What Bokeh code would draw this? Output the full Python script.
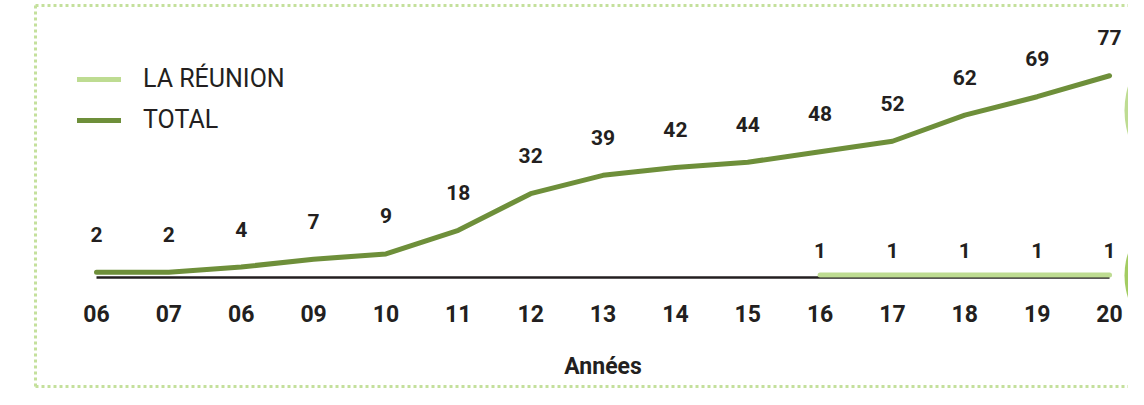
from bokeh.plotting import figure
from bokeh.models import Range1d, Legend, LegendItem
from bokeh.core.properties import value
from bokeh.embed import file_html
from bokeh.resources import INLINE

# ---- data ----
year_labels = ["06", "07", "06", "09", "10", "11", "12", "13", "14", "15", "16", "17", "18", "19", "20"]
total = [2, 2, 4, 7, 9, 18, 32, 39, 42, 44, 48, 52, 62, 69, 77]
reunion_years = ["16", "17", "18", "19", "20"]
reunion = [1, 1, 1, 1, 1]
axis_title = "Années"
series_names = ["LA RÉUNION", "TOTAL"]

# ---- styling ----
W, H = 1128, 389
X_PX = 72.36           # pixels per year slot
Y_PX = 2.62            # pixels per unit
X0_FIG = 96            # fig px of first slot
ZERO_FIG = 277         # fig px (from top) of value 0

DARK = "#6e8f3a"
LIGHT = "#bedc92"
TXT = "#231f20"
DOT = "#c4e09c"
FONT = value("Roboto")

x0 = -X0_FIG / X_PX
x1 = x0 + W / X_PX
y1 = ZERO_FIG / Y_PX
y0 = y1 - H / Y_PX

def dx(px):
    return x0 + px / X_PX

def dy(py):
    return y1 - py / Y_PX

p = figure(width=W, height=H, output_backend="svg", toolbar_location=None,
           x_range=Range1d(x0, x1), y_range=Range1d(y0, y1),
           x_axis_location=None, y_axis_location=None, min_border=0)
p.outline_line_color = None
p.xgrid.visible = False
p.ygrid.visible = False
p.background_fill_color = "white"
p.border_fill_color = "white"

xs = list(range(len(year_labels)))
rx = [year_labels.index(y) for y in reunion_years]

# decorative dotted frame
p.segment(x0=[dx(35), dx(35), dx(35)], y0=[dy(5), dy(5), dy(386)],
          x1=[dx(35), dx(W + 20), dx(W + 20)], y1=[dy(386), dy(5), dy(386)],
          line_color=DOT, line_width=3, line_dash="3 3")

# decorative circles at the right edge
p.scatter(x=[dx(1209), dx(1197)], y=[dy(110), dy(275)], size=[170, 146],
          fill_color=[LIGHT, "#a3cc62"], line_color=None)

# axis line
p.segment(x0=[xs[0]], y0=[0], x1=[xs[-1]], y1=[0], line_color=TXT, line_width=2.5)

# series
r_re = p.line(rx, reunion, line_color=LIGHT, line_width=5, line_cap="round", line_join="round")
r_tot = p.line(xs, total, line_color=DARK, line_width=5, line_cap="round", line_join="round")

# value labels
p.text(x=xs, y=total, text=[str(v) for v in total], text_font=FONT, text_font_style="bold",
       text_font_size="21px", text_color=TXT, text_align="center", text_baseline="middle",
       y_offset=-38)
p.text(x=rx, y=reunion, text=[str(v) for v in reunion], text_font=FONT, text_font_style="bold",
       text_font_size="21px", text_color=TXT, text_align="center", text_baseline="middle",
       y_offset=-24)

# tick labels
p.text(x=xs, y=[0] * len(xs), text=year_labels, text_font=FONT, text_font_style="bold",
       text_font_size="23px", text_color=TXT, text_align="center", text_baseline="middle",
       y_offset=36)

# axis title
p.text(x=[(xs[0] + xs[-1]) / 2], y=[0], text=[axis_title], text_font=FONT, text_font_style="bold",
       text_font_size="23px", text_color=TXT, text_align="center", text_baseline="middle",
       y_offset=89)

legend = Legend(items=[LegendItem(label=series_names[0], renderers=[r_re]),
                       LegendItem(label=series_names[1], renderers=[r_tot])],
                location=(77, 255), orientation="vertical",
                border_line_color=None, background_fill_alpha=0,
                padding=0, margin=0, spacing=12, glyph_height=20, label_height=20,
                glyph_width=44, label_standoff=22,
                label_text_font="Roboto", label_text_font_size="25px", label_text_color=TXT)
p.add_layout(legend)

open("out.html", "w").write(file_html(p, INLINE))
